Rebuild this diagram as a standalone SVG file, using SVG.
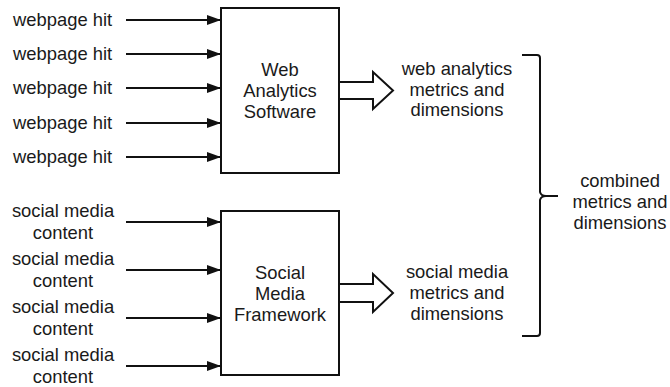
<svg xmlns="http://www.w3.org/2000/svg" width="670" height="387" viewBox="0 0 670 387">
<style>
text{font-family:"Liberation Sans",Arial,sans-serif;font-size:18.4px;fill:#1a1a1a}
.m{text-anchor:middle}
.box{fill:#fff;stroke:#111;stroke-width:2}
.ln{stroke:#111;stroke-width:2;fill:none}
.big{fill:#fff;stroke:#111;stroke-width:2;stroke-linejoin:miter}
</style>
<defs>
<marker id="ah" viewBox="0 0 14 10" refX="14" refY="5" markerWidth="14" markerHeight="10" markerUnits="userSpaceOnUse" orient="auto">
<path d="M0,0 L14,5 L0,10 Z" fill="#111"/>
</marker>
</defs>
<g id="inputs-web">
<text x="13" y="26">webpage hit</text>
<text x="13" y="60">webpage hit</text>
<text x="13" y="94">webpage hit</text>
<text x="13" y="129">webpage hit</text>
<text x="13" y="163">webpage hit</text>
</g>
<g id="inputs-social">
<text class="m" x="63" y="217">social media</text><text class="m" x="63" y="239">content</text>
<text class="m" x="63" y="265">social media</text><text class="m" x="63" y="287">content</text>
<text class="m" x="63" y="313">social media</text><text class="m" x="63" y="335">content</text>
<text class="m" x="63" y="361">social media</text><text class="m" x="63" y="383">content</text>
</g>
<g id="connectors">
<line class="ln" x1="126" y1="20" x2="221" y2="20" marker-end="url(#ah)"/>
<line class="ln" x1="126" y1="54" x2="221" y2="54" marker-end="url(#ah)"/>
<line class="ln" x1="126" y1="88" x2="221" y2="88" marker-end="url(#ah)"/>
<line class="ln" x1="126" y1="123" x2="221" y2="123" marker-end="url(#ah)"/>
<line class="ln" x1="126" y1="157" x2="221" y2="157" marker-end="url(#ah)"/>
<line class="ln" x1="126" y1="222" x2="221" y2="222" marker-end="url(#ah)"/>
<line class="ln" x1="126" y1="270" x2="221" y2="270" marker-end="url(#ah)"/>
<line class="ln" x1="126" y1="318" x2="221" y2="318" marker-end="url(#ah)"/>
<line class="ln" x1="126" y1="366" x2="221" y2="366" marker-end="url(#ah)"/>
<path class="big" d="M339,82 L373,82 L373,72 L393,90.5 L373,109 L373,99 L339,99"/>
<path class="big" d="M339,284 L373,284 L373,274 L393,293 L373,312 L373,302 L339,302"/>
<path class="ln" d="M522,55 L537,55 Q540,55 540,58 L540,192 Q541,196 546,196 L558,196 M546,196 Q541,196 540,200 L540,333 Q540,336 537,336 L522,336"/>
</g>
<g id="web-analytics">
<rect class="box" x="221" y="8" width="118" height="165"/>
<text class="m" x="280" y="76">Web</text>
<text class="m" x="280" y="97">Analytics</text>
<text class="m" x="280" y="118">Software</text>
</g>
<g id="social-framework">
<rect class="box" x="221" y="211" width="118" height="164"/>
<text class="m" x="280" y="279">Social</text>
<text class="m" x="280" y="300">Media</text>
<text class="m" x="280" y="321">Framework</text>
</g>
<g id="web-metrics">
<text class="m" x="457" y="75">web analytics</text>
<text class="m" x="457" y="96">metrics and</text>
<text class="m" x="457" y="116">dimensions</text>
</g>
<g id="social-metrics">
<text class="m" x="457" y="278">social media</text>
<text class="m" x="457" y="299">metrics and</text>
<text class="m" x="457" y="320">dimensions</text>
</g>
<g id="combined">
<text class="m" x="620" y="187">combined</text>
<text class="m" x="620" y="208">metrics and</text>
<text class="m" x="620" y="229">dimensions</text>
</g>
</svg>
